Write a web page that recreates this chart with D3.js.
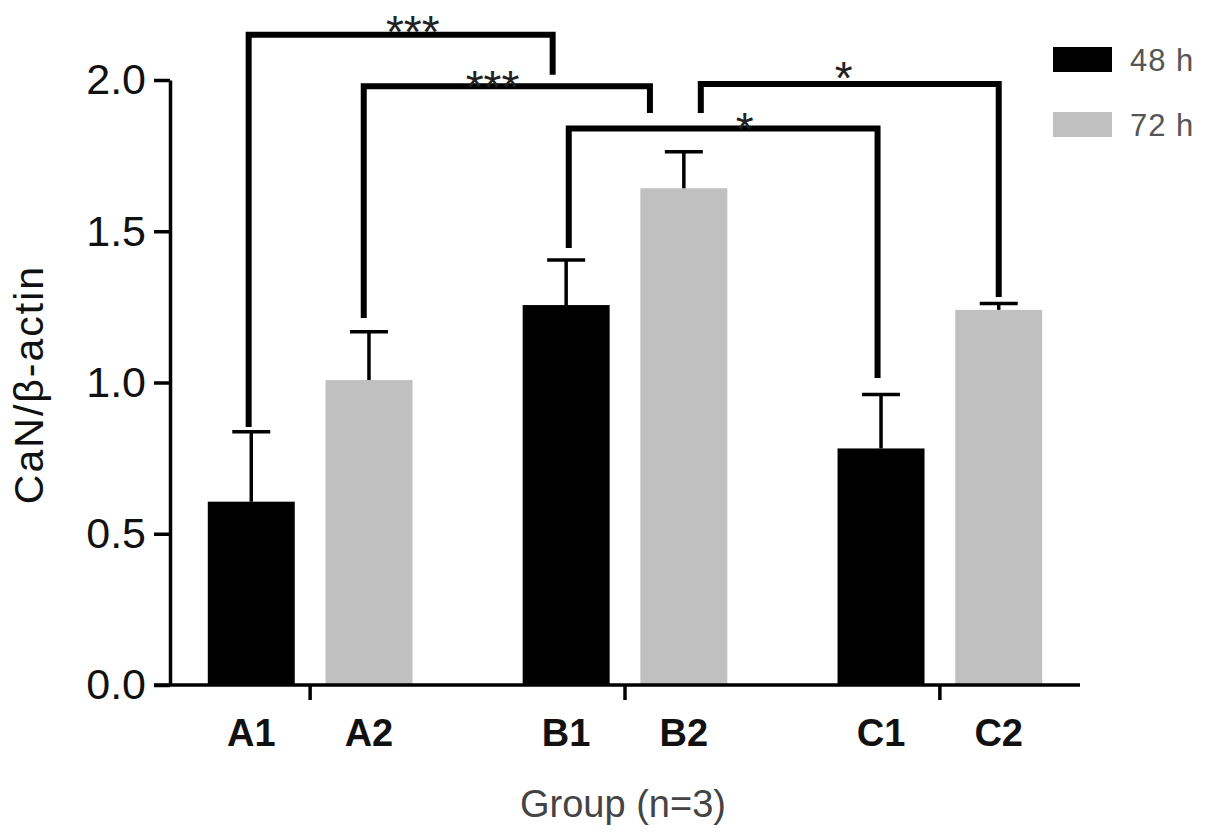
<!DOCTYPE html>
<html>
<head>
<meta charset="utf-8">
<script src="https://cdn.jsdelivr.net/npm/d3@7"></script>
<style>
  html, body { margin: 0; padding: 0; background: #fff; }
  svg { display: block; }
</style>
</head>
<body>
<svg id="chart" width="1205" height="840"></svg>
<script>
// ---------- data ----------
const groups = ["A", "B", "C"];
const seriesNames = ["48 h", "72 h"];
const barLabels = [["A1", "A2"], ["B1", "B2"], ["C1", "C2"]];
const means48 = [0.606, 1.256, 0.782];
const means72 = [1.008, 1.642, 1.240];
const err48 = [0.231, 0.149, 0.178];
const err72 = [0.160, 0.121, 0.021];
const yTicks = [0, 0.5, 1.0, 1.5, 2.0];
const yTitle = "CaN/β-actin";
const xTitle = "Group (n=3)";
// significance brackets (comparisons between bars)
const sigText = ["***", "***", "*", "*"];
const sigFrom = ["A1", "A2", "B2", "B1"];
const sigTo = ["B1", "B2", "C2", "C1"];
const sigLevel = [2.150, 1.979, 1.987, 1.840];
const sigFromEnd = [0.853, 1.213, 1.891, 1.445];
const sigToEnd = [2.017, 1.891, 1.283, 1.015];

// ---------- layout / style ----------
const colors = { "48 h": "#000000", "72 h": "#c0c0c0" };
const legOffset = [[-0.03, -0.155], [-0.06, -0.39], [0.195, 0], [0.03, -0.04]]; // fraction of bar width
const starPos = [0.54, 0.45, 0.48, 0.57];     // fraction along bracket
const starLift = [13.5, 10, 17, 10.5];         // px above bracket line (star centre)
const FONT = "'Liberation Sans', Arial, Helvetica, sans-serif";

const svg = d3.select("#chart");
const x0 = d3.scaleBand().domain(groups).range([170, 1080]).paddingInner(0.35).paddingOuter(0.12);
const x1 = d3.scaleBand().domain(seriesNames).range([0, x0.bandwidth()]).paddingInner(0.261).paddingOuter(0);
const y = d3.scaleLinear().domain([0, 2]).range([685, 80]);

const rows = [];
groups.forEach((g, i) => {
  rows.push({ g, s: "48 h", v: means48[i], e: err48[i], label: barLabels[i][0] });
  rows.push({ g, s: "72 h", v: means72[i], e: err72[i], label: barLabels[i][1] });
});
const cx = d => x0(d.g) + x1(d.s) + x1.bandwidth() / 2;
const byLabel = {};
rows.forEach(r => byLabel[r.label] = r);

// bars
svg.append("g").selectAll("rect").data(rows).join("rect")
  .attr("x", d => x0(d.g) + x1(d.s))
  .attr("width", x1.bandwidth())
  .attr("y", d => y(d.v))
  .attr("height", d => y(0) - y(d.v))
  .attr("fill", d => colors[d.s]);

// error bars (upper only)
const eb = svg.append("g").attr("stroke", "#000").attr("stroke-width", 3.5);
eb.selectAll("line.v").data(rows).join("line").attr("class", "v")
  .attr("x1", cx).attr("x2", cx)
  .attr("y1", d => y(d.v)).attr("y2", d => y(d.v + d.e));
eb.selectAll("line.c").data(rows).join("line").attr("class", "c")
  .attr("x1", d => cx(d) - 19).attr("x2", d => cx(d) + 19)
  .attr("y1", d => y(d.v + d.e)).attr("y2", d => y(d.v + d.e));

// y axis
const yAxis = svg.append("g").attr("transform", `translate(${x0.range()[0]},0)`)
  .call(d3.axisLeft(y).tickValues(yTicks).tickFormat(d3.format(".1f")).tickSize(16).tickSizeOuter(0).tickPadding(8));
yAxis.select(".domain").attr("stroke-width", 3.5);
yAxis.selectAll(".tick line").attr("stroke-width", 3.5);
yAxis.selectAll(".tick text").attr("font-family", FONT).attr("font-size", 43).attr("fill", "#111");

// x axis
const xAxis = svg.append("g").attr("transform", `translate(0,${y(0)})`)
  .call(d3.axisBottom(x0).tickFormat("").tickSize(15).tickSizeOuter(0));
xAxis.select(".domain").attr("stroke-width", 3.5);
xAxis.selectAll(".tick line").attr("stroke-width", 3.5);
xAxis.select(".domain").attr("d", `M${x0.range()[0] - 16},0H${x0.range()[1]}`);

// bar labels
svg.append("g").selectAll("text").data(rows).join("text")
  .attr("x", cx).attr("y", 746)
  .attr("text-anchor", "middle")
  .attr("font-family", FONT).attr("font-weight", "bold").attr("font-size", 38).attr("fill", "#111")
  .text(d => d.label);

// axis titles
svg.append("text")
  .attr("transform", `translate(43,${(y(0) + y(2)) / 2 + 2}) rotate(-90)`)
  .attr("text-anchor", "middle")
  .attr("font-family", FONT).attr("font-size", 41).attr("letter-spacing", 2).attr("fill", "#111")
  .text(yTitle);
svg.append("text")
  .attr("x", (x0.range()[0] + x0.range()[1]) / 2 - 2).attr("y", 817)
  .attr("text-anchor", "middle")
  .attr("font-family", FONT).attr("font-size", 38).attr("fill", "#444")
  .text(xTitle);

// significance brackets
const bw = x1.bandwidth();
const br = svg.append("g");
sigText.forEach((t, i) => {
  const a = byLabel[sigFrom[i]], b = byLabel[sigTo[i]];
  const xa = cx(a) + legOffset[i][0] * bw;
  const xb = cx(b) + legOffset[i][1] * bw;
  const yl = y(sigLevel[i]);
  const p = d3.path();
  p.moveTo(xa, y(sigFromEnd[i]));
  p.lineTo(xa, yl);
  p.lineTo(xb, yl);
  p.lineTo(xb, y(sigToEnd[i]));
  br.append("path").attr("d", p.toString())
    .attr("fill", "none").attr("stroke", "#000").attr("stroke-width", 6)
    .attr("stroke-linejoin", "miter").attr("stroke-linecap", "butt");
  const fs = 46;
  br.append("text")
    .attr("x", xa + (xb - xa) * starPos[i])
    .attr("y", yl - starLift[i] + 0.58 * fs)
    .attr("text-anchor", "middle")
    .attr("font-family", FONT).attr("font-size", fs).attr("fill", "#222")
    .text(t);
});

// legend
const lg = svg.append("g");
seriesNames.forEach((s, i) => {
  lg.append("rect").attr("x", 1053).attr("y", 47 + i * 65).attr("width", 59).attr("height", 25)
    .attr("fill", colors[s]);
  lg.append("text").attr("x", 1130).attr("y", 59.5 + i * 65).attr("dy", "0.36em")
    .attr("font-family", FONT).attr("font-size", 31).attr("letter-spacing", 1).attr("fill", "#555")
    .text(s);
});
</script>
</body>
</html>
